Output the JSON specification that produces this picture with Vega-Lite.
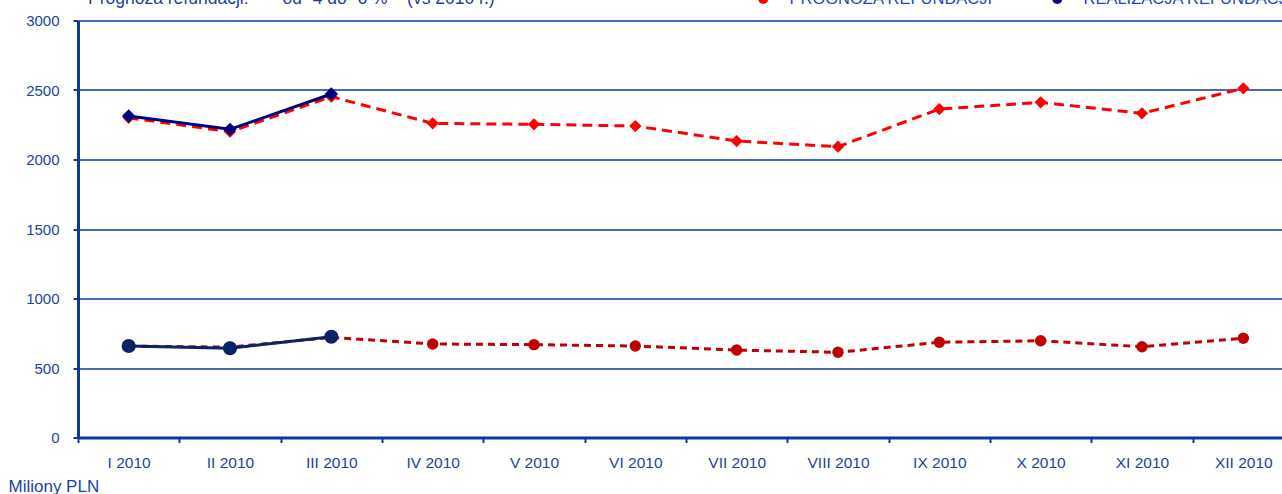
{
  "$schema": "https://vega.github.io/schema/vega-lite/v6.json",
  "width": 1216,
  "height": 417,
  "autosize": {"type": "none"},
  "padding": {"left": 78, "top": 20.5, "right": 0, "bottom": 56.5},
  "background": "white",
  "config": {"view": {"stroke": null}, "font": "Liberation Sans"},
  "title": {
    "text": "Prognoza refundacji:\u00a0\u00a0\u00a0\u00a0\u00a0\u00a0\u00a0od -4 do -6 %\u00a0\u00a0\u00a0\u00a0(vs 2010 r.)",
    "anchor": "start",
    "frame": "group",
    "orient": "top",
    "offset": -31,
    "dx": 10,
    "baseline": "alphabetic",
    "fontSize": 17.5,
    "fontWeight": "normal",
    "color": "#1B3FA6"
  },
  "data": {
    "values": [
      {"month": "I 2010", "group": "top", "series": "PROGNOZA REFUNDACJI", "value": 2300},
      {"month": "II 2010", "group": "top", "series": "PROGNOZA REFUNDACJI", "value": 2200},
      {"month": "III 2010", "group": "top", "series": "PROGNOZA REFUNDACJI", "value": 2452},
      {"month": "IV 2010", "group": "top", "series": "PROGNOZA REFUNDACJI", "value": 2260},
      {"month": "V 2010", "group": "top", "series": "PROGNOZA REFUNDACJI", "value": 2253},
      {"month": "VI 2010", "group": "top", "series": "PROGNOZA REFUNDACJI", "value": 2241},
      {"month": "VII 2010", "group": "top", "series": "PROGNOZA REFUNDACJI", "value": 2133},
      {"month": "VIII 2010", "group": "top", "series": "PROGNOZA REFUNDACJI", "value": 2092},
      {"month": "IX 2010", "group": "top", "series": "PROGNOZA REFUNDACJI", "value": 2363},
      {"month": "X 2010", "group": "top", "series": "PROGNOZA REFUNDACJI", "value": 2411},
      {"month": "XI 2010", "group": "top", "series": "PROGNOZA REFUNDACJI", "value": 2332},
      {"month": "XII 2010", "group": "top", "series": "PROGNOZA REFUNDACJI", "value": 2512},
      {"month": "I 2010", "group": "top", "series": "REALIZACJA REFUNDACJI", "value": 2313},
      {"month": "II 2010", "group": "top", "series": "REALIZACJA REFUNDACJI", "value": 2217},
      {"month": "III 2010", "group": "top", "series": "REALIZACJA REFUNDACJI", "value": 2471},
      {"month": "I 2010", "group": "bottom", "series": "PROGNOZA REFUNDACJI", "value": 658},
      {"month": "II 2010", "group": "bottom", "series": "PROGNOZA REFUNDACJI", "value": 650},
      {"month": "III 2010", "group": "bottom", "series": "PROGNOZA REFUNDACJI", "value": 720},
      {"month": "IV 2010", "group": "bottom", "series": "PROGNOZA REFUNDACJI", "value": 673},
      {"month": "V 2010", "group": "bottom", "series": "PROGNOZA REFUNDACJI", "value": 668},
      {"month": "VI 2010", "group": "bottom", "series": "PROGNOZA REFUNDACJI", "value": 658},
      {"month": "VII 2010", "group": "bottom", "series": "PROGNOZA REFUNDACJI", "value": 629},
      {"month": "VIII 2010", "group": "bottom", "series": "PROGNOZA REFUNDACJI", "value": 613},
      {"month": "IX 2010", "group": "bottom", "series": "PROGNOZA REFUNDACJI", "value": 685},
      {"month": "X 2010", "group": "bottom", "series": "PROGNOZA REFUNDACJI", "value": 696},
      {"month": "XI 2010", "group": "bottom", "series": "PROGNOZA REFUNDACJI", "value": 653},
      {"month": "XII 2010", "group": "bottom", "series": "PROGNOZA REFUNDACJI", "value": 714},
      {"month": "I 2010", "group": "bottom", "series": "REALIZACJA REFUNDACJI", "value": 658},
      {"month": "II 2010", "group": "bottom", "series": "REALIZACJA REFUNDACJI", "value": 642},
      {"month": "III 2010", "group": "bottom", "series": "REALIZACJA REFUNDACJI", "value": 725}
    ]
  },
  "encoding": {
    "x": {
      "field": "month",
      "type": "ordinal",
      "sort": ["I 2010", "II 2010", "III 2010", "IV 2010", "V 2010", "VI 2010", "VII 2010", "VIII 2010", "IX 2010", "X 2010", "XI 2010", "XII 2010"],
      "scale": {"paddingInner": 0, "paddingOuter": 0},
      "axis": {
        "title": null,
        "labelAngle": 0,
        "labelPadding": 13,
        "labelFontSize": 15.5,
        "labelColor": "#1B3FA6",
        "domainColor": "#0B3A9E",
        "domainWidth": 3,
        "tickColor": "#0B3A9E",
        "tickWidth": 2,
        "tickSize": 5,
        "tickBand": "extent",
        "grid": false
      }
    },
    "y": {
      "field": "value",
      "type": "quantitative",
      "scale": {"domain": [0, 3000], "nice": false},
      "axis": {
        "values": [0, 500, 1000, 1500, 2000, 2500, 3000],
        "format": "d",
        "labelFontSize": 15,
        "labelColor": "#1B3FA6",
        "labelPadding": 14,
        "domainColor": "#0B3A9E",
        "domainWidth": 3,
        "tickColor": "#0B3A9E",
        "tickWidth": 2,
        "tickSize": 5,
        "grid": true,
        "gridColor": "#0B3A9E",
        "gridWidth": 1.5,
        "gridOpacity": 1,
        "title": "Miliony PLN",
        "titleAngle": 0,
        "titleAlign": "left",
        "titleBaseline": "alphabetic",
        "titleX": -70,
        "titleY": 470.5,
        "titleFontSize": 17,
        "titleFontWeight": "normal",
        "titleColor": "#1B3FA6"
      }
    }
  },
  "layer": [
    {
      "transform": [{"filter": "datum.group == 'top' && datum.series == 'PROGNOZA REFUNDACJI'"}],
      "mark": {"type": "line", "strokeWidth": 3, "strokeDash": [10, 6], "point": {"shape": "diamond", "size": 150, "filled": true}},
      "encoding": {
        "color": {
          "field": "series",
          "type": "nominal",
          "scale": {"domain": ["PROGNOZA REFUNDACJI", "REALIZACJA REFUNDACJI"], "range": ["#FF0000", "#000080"]},
          "legend": {
            "title": null,
            "orient": "none",
            "direction": "horizontal",
            "legendX": 677,
            "legendY": -30,
            "padding": 0,
            "symbolType": "circle",
            "symbolSize": 100,
            "symbolStrokeWidth": 0,
            "symbolDash": [1, 0],
            "labelOffset": 18,
            "columnPadding": 55,
            "labelFontSize": 16.5,
            "labelColor": "#1F44C4",
            "labelLimit": 400
          }
        }
      }
    },
    {
      "transform": [{"filter": "datum.group == 'bottom' && datum.series == 'PROGNOZA REFUNDACJI'"}],
      "mark": {"type": "line", "color": "#C00000", "strokeWidth": 3, "strokeDash": [7, 5], "point": {"shape": "circle", "size": 130, "filled": true, "color": "#C00000"}}
    },
    {
      "transform": [{"filter": "datum.group == 'top' && datum.series == 'REALIZACJA REFUNDACJI'"}],
      "mark": {"type": "line", "strokeWidth": 3, "point": {"shape": "diamond", "size": 180, "filled": true}},
      "encoding": {
        "color": {"field": "series", "type": "nominal"}
      }
    },
    {
      "transform": [{"filter": "datum.group == 'bottom' && datum.series == 'REALIZACJA REFUNDACJI'"}],
      "mark": {"type": "line", "color": "#0A2366", "strokeWidth": 3, "point": {"shape": "circle", "size": 200, "filled": true, "color": "#0A2366"}}
    }
  ]
}
